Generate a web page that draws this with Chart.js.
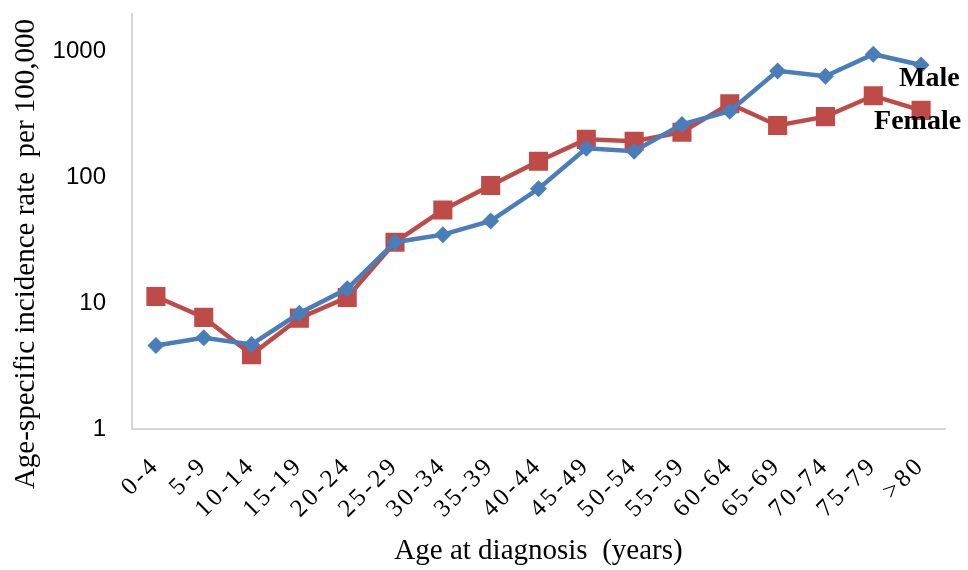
<!DOCTYPE html>
<html>
<head>
<meta charset="utf-8">
<script src="https://cdn.jsdelivr.net/npm/chart.js@4/dist/chart.umd.min.js"></script>
<style>
  html, body { margin: 0; padding: 0; background: #ffffff; }
  #wrap { width: 968px; height: 570px; position: relative; }
</style>
</head>
<body>
<div id="wrap"><canvas id="chart"></canvas></div>
<script>
// Age groups at diagnosis
const ageGroups = ['0-4', '5-9', '10-14', '15-19', '20-24', '25-29', '30-34', '35-39', '40-44',
                   '45-49', '50-54', '55-59', '60-64', '65-69', '70-74', '75-79', '>80'];

// Age-specific incidence rate per 100,000
const maleRates   = [4.6, 5.3, 4.7, 8.3, 13, 30.5, 35, 45, 81, 170, 161, 263, 335, 700, 635, 950, 780];
const femaleRates = [11.3, 7.7, 3.9, 7.6, 11.1, 30.5, 55, 86, 134, 200, 193, 228, 384, 258, 303, 444, 340];

// Log-axis tick values
const yTickValues = [1, 10, 100, 1000];

const BLUE = '#4A7EBB';
const RED = '#BE4B48';
const SERIF = '"Liberation Serif", "Times New Roman", serif';

// Series names beside the last point of each line, and the vertical axis title
const annotations = {
  id: 'annotations',
  afterDatasetsDraw(chart) {
    const ctx = chart.ctx;
    const last = ageGroups.length - 1;
    const m = chart.getDatasetMeta(0).data[last];
    const f = chart.getDatasetMeta(1).data[last];
    ctx.save();
    ctx.fillStyle = '#000000';
    ctx.textBaseline = 'middle';
    ctx.textAlign = 'left';
    ctx.font = 'bold 28px ' + SERIF;
    ctx.fillText('Male', m.x - 22, m.y + 14);
    ctx.fillText('Female', f.x - 47, f.y + 11);
    ctx.restore();

    ctx.save();
    ctx.fillStyle = '#000000';
    ctx.textBaseline = 'middle';
    ctx.textAlign = 'center';
    ctx.font = '29px ' + SERIF;
    ctx.translate(26, 254);
    ctx.rotate(-Math.PI / 2);
    ctx.fillText('Age-specific incidence rate  per 100,000', 0, 0);
    ctx.restore();
  }
};

new Chart(document.getElementById('chart'), {
  type: 'line',
  data: {
    labels: ageGroups,
    datasets: [
      {
        label: 'Male',
        data: maleRates,
        borderColor: BLUE,
        backgroundColor: BLUE,
        borderWidth: 4.5,
        pointStyle: 'rectRot',
        pointRadius: 8.5,
        pointHoverRadius: 8.5,
        pointBorderWidth: 0,
        tension: 0
      },
      {
        label: 'Female',
        data: femaleRates,
        borderColor: RED,
        backgroundColor: RED,
        borderWidth: 4.5,
        pointStyle: 'rect',
        pointRadius: 13.5,
        pointHoverRadius: 13.5,
        pointBorderWidth: 0,
        tension: 0
      }
    ]
  },
  options: {
    responsive: true,
    maintainAspectRatio: false,
    animation: false,
    layout: { padding: { top: 9, right: 23, left: 0, bottom: 0 } },
    plugins: {
      legend: { display: false },
      tooltip: { enabled: false }
    },
    scales: {
      x: {
        type: 'category',
        offset: true,
        grid: { display: true, drawOnChartArea: false, drawTicks: false },
        border: { display: true, color: '#d6d6d6', width: 2 },
        ticks: {
          autoSkip: false,
          minRotation: 45,
          maxRotation: 45,
          padding: 22,
          color: '#000000',
          font: { family: SERIF, size: 25 }
        },
        title: {
          display: true,
          text: 'Age at diagnosis  (years)',
          color: '#000000',
          padding: { top: 0, bottom: 1 },
          font: { family: SERIF, size: 29 }
        },
        afterFit(scale) {
          scale.height = 141;
          scale.paddingLeft = 0;
          scale.paddingRight = 0;
          if (!scale._spacedLabels) {
            // spaced-out category labels
            const draw = scale.drawLabels;
            scale.drawLabels = function (area) {
              this.ctx.save();
              this.ctx.letterSpacing = '3px';
              draw.call(this, area);
              this.ctx.restore();
            };
            scale._spacedLabels = true;
          }
        }
      },
      y: {
        type: 'logarithmic',
        min: 1,
        max: 2000,
        grid: { display: true, drawOnChartArea: false, drawTicks: false },
        border: { display: true, color: '#d6d6d6', width: 2 },
        afterBuildTicks(scale) {
          scale.ticks = yTickValues.map(v => ({ value: v }));
        },
        ticks: {
          padding: 26,
          color: '#000000',
          font: { family: '"Liberation Sans", Arial, sans-serif', size: 24 },
          callback: (v) => String(v)
        },
        title: { display: false },
        afterFit(scale) {
          scale.width = 132;
          scale.paddingTop = 0;
          scale.paddingBottom = 0;
        }
      }
    }
  },
  plugins: [annotations]
});
</script>
</body>
</html>
